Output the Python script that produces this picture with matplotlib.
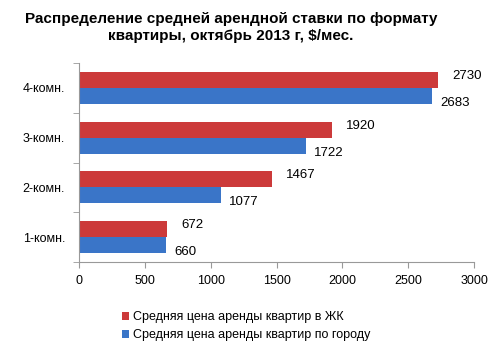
import numpy as np
import matplotlib.pyplot as plt

plt.rcParams['font.family'] = ['Liberation Sans', 'DejaVu Sans']

categories = ['1-комн.', '2-комн.', '3-комн.', '4-комн.']
zhk_values = [672, 1467, 1920, 2730]
city_values = [660, 1077, 1722, 2683]
series_names = ['Средняя цена аренды квартир в ЖК',
                'Средняя цена аренды квартир по городу']
red = '#CC3A3A'
blue = '#3A75C8'

fig = plt.figure(figsize=(5, 3.48), dpi=100)
ax = fig.add_axes([0.158, 0.247, 0.79, 0.572])

y = np.arange(len(categories))
h = 0.32
ax.barh(y + h / 2, zhk_values, height=h, color=red, label=series_names[0])
ax.barh(y - h / 2, city_values, height=h, color=blue, label=series_names[1])

for yi, v in zip(y, zhk_values):
    ax.annotate(str(v), xy=(v, yi + h / 2), xytext=(10, 3), textcoords='offset points',
                va='center', ha='left', fontsize=9.5)
for yi, v in zip(y, city_values):
    ax.annotate(str(v), xy=(v, yi - h / 2), xytext=(6, -5), textcoords='offset points',
                va='center', ha='left', fontsize=9.5)

ax.set_xlim(0, 3000)
ax.set_ylim(-0.5, 3.5)
ax.set_xticks(range(0, 3001, 500))
ax.set_yticks(y)
ax.set_yticklabels(categories)
ax.set_yticks(np.arange(-0.5, 4, 1), minor=True)
ax.tick_params(axis='y', which='major', length=0, pad=10, labelsize=9)
ax.tick_params(axis='y', which='minor', length=4, color='#999999')
ax.tick_params(axis='x', length=4, color='#999999', pad=5, labelsize=9)
for s in ['top', 'right']:
    ax.spines[s].set_visible(False)
for s in ['left', 'bottom']:
    ax.spines[s].set_color('#999999')

fig.text(0.462, 0.92, 'Распределение средней арендной ставки по формату\nквартиры, октябрь 2013 г, $/мес.',
         ha='center', va='center', fontsize=11, fontweight='bold', linespacing=1.25)

ax.legend(loc='upper left', bbox_to_anchor=(0.08, -0.19), frameon=False, fontsize=9,
          handlelength=0.6, handleheight=0.6, handletextpad=0.3, labelspacing=0.5)

fig.savefig('out.png', dpi=100)
